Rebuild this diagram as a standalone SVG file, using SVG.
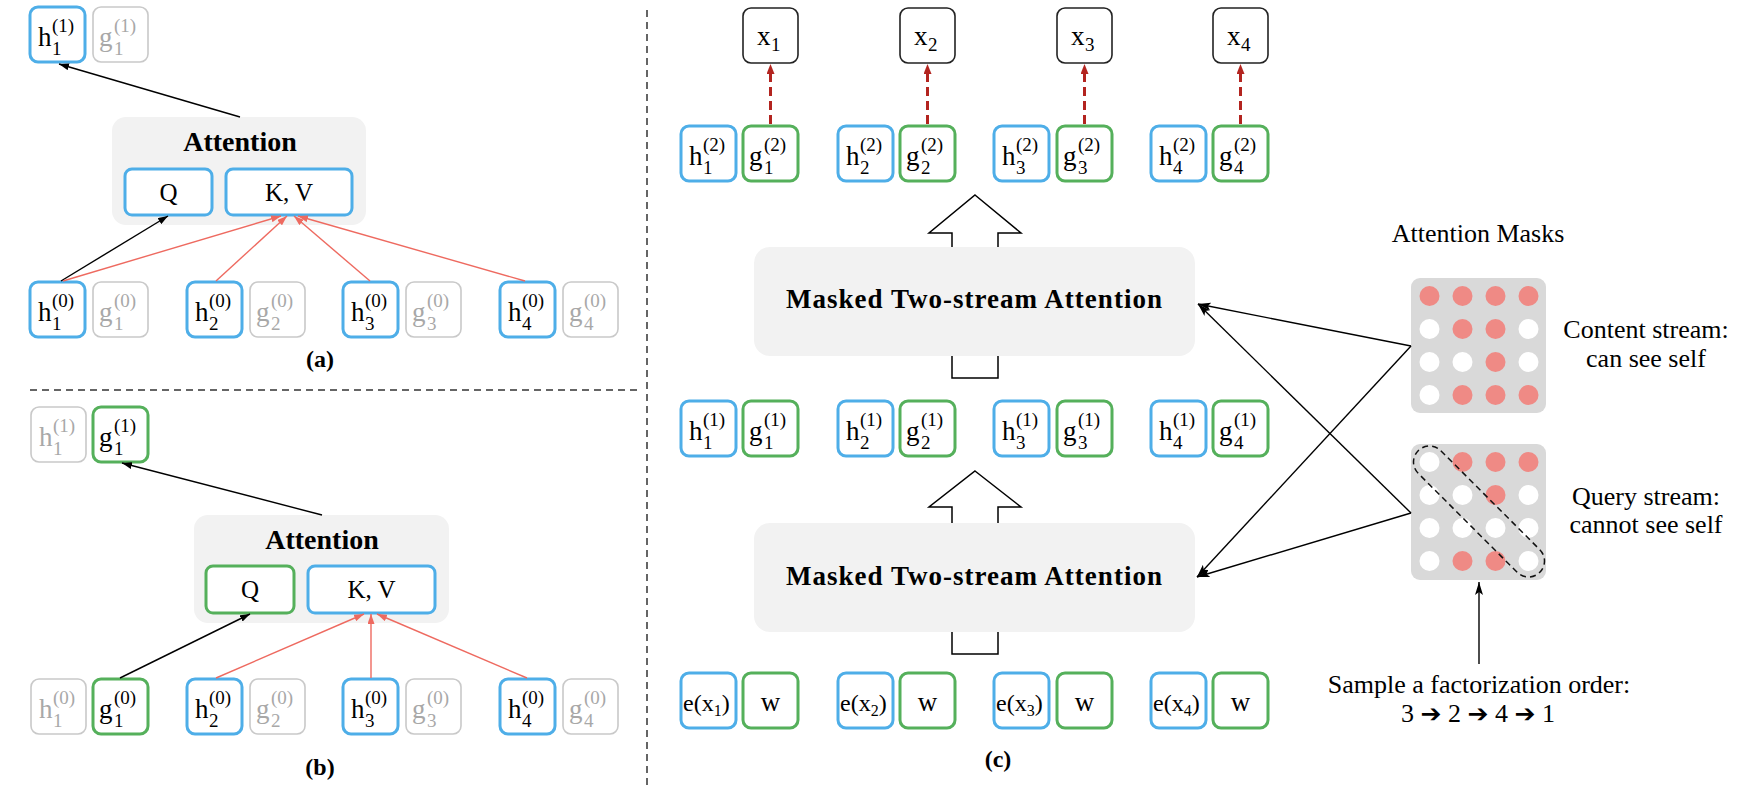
<svg xmlns="http://www.w3.org/2000/svg" width="1742" height="790" viewBox="0 0 1742 790">
<style>
text{font-family:"Liberation Serif",serif;fill:#000}
.bb{fill:#fff;stroke:#4eaee8;stroke-width:3}
.gb{fill:#fff;stroke:#55b05b;stroke-width:3}
.nb{fill:#fff;stroke:#c9c9c9;stroke-width:1.6}
.kb{fill:#fff;stroke:#222;stroke-width:1.6}
.att{fill:#f2f2f2}
.lb{font-size:27px}
.sp{font-size:19px}
.gr{fill:#a8a8a8}
.bold{font-weight:bold}
.big{font-size:26px;text-anchor:middle}
.mid{text-anchor:middle}
.k{stroke:#000;stroke-width:1.4;fill:none}
.r{stroke:#ee6a60;stroke-width:1.4;fill:none}
.rd{stroke:#b3241f;stroke-width:3;fill:none;stroke-dasharray:9 5}
.dash{stroke:#333;stroke-width:1.5;stroke-dasharray:7 5;fill:none}
.ha{fill:#fff;stroke:#000;stroke-width:1.5}
.mask{fill:#d9d9d9}
.p{fill:#ef8a85}
.w{fill:#fff}
.ar{font-family:"DejaVu Sans",sans-serif;font-size:25px}
</style>
<defs>
<marker id="mk" viewBox="0 0 10 7" refX="10" refY="3.5" markerWidth="10" markerHeight="7" markerUnits="userSpaceOnUse" orient="auto"><path d="M0,0 L10,3.5 L0,7 z" fill="#000"/></marker>
<marker id="mr" viewBox="0 0 10 7" refX="10" refY="3.5" markerWidth="10" markerHeight="7" markerUnits="userSpaceOnUse" orient="auto"><path d="M0,0 L10,3.5 L0,7 z" fill="#ee6a60"/></marker>
<marker id="md" viewBox="0 0 10 8" refX="4" refY="4" markerWidth="10" markerHeight="8" markerUnits="userSpaceOnUse" orient="auto"><path d="M0,0 L10,4 L0,8 z" fill="#b3241f"/></marker>
<marker id="mb" viewBox="0 0 13 8" refX="13" refY="4" markerWidth="13" markerHeight="8" markerUnits="userSpaceOnUse" orient="auto"><path d="M0,0 L13,4 L0,8 L3,4 z" fill="#000"/></marker>
</defs>

<!-- separators -->
<g id="separators">
<line class="dash" x1="647" y1="10" x2="647" y2="790"/>
<line class="dash" x1="30" y1="390" x2="642" y2="390"/>
</g>

<!-- ============ Panel (a) ============ -->
<g id="a-h1-1"><rect class="bb" x="30" y="7" width="55" height="55" rx="8"/><text class="lb" x="38" y="46">h<tspan class="sp" x="52" y="32">(1)</tspan><tspan class="sp" x="52" y="55">1</tspan></text></g>
<g id="a-g1-1"><rect class="nb" x="93" y="7" width="55" height="55" rx="8"/><text class="lb gr" x="99" y="46">g<tspan class="sp" x="114" y="32">(1)</tspan><tspan class="sp" x="114" y="55">1</tspan></text></g>

<g id="a-attention"><rect class="att" x="112" y="117" width="254" height="108" rx="14"/><text class="bold mid" x="240" y="151" font-size="28">Attention</text>
<g id="a-q"><rect class="bb" x="125" y="169" width="87" height="46" rx="7"/><text class="mid" x="168.5" y="201" font-size="25">Q</text></g>
<g id="a-kv"><rect class="bb" x="226" y="169" width="126" height="46" rx="7"/><text class="mid" x="289" y="201" font-size="25">K, V</text></g>
</g>

<g id="a-h1-0"><rect class="bb" x="30" y="282" width="55" height="55" rx="8"/><text class="lb" x="38" y="321">h<tspan class="sp" x="52" y="307">(0)</tspan><tspan class="sp" x="52" y="330">1</tspan></text></g>
<g id="a-g1-0"><rect class="nb" x="93" y="282" width="55" height="55" rx="8"/><text class="lb gr" x="99" y="321">g<tspan class="sp" x="114" y="307">(0)</tspan><tspan class="sp" x="114" y="330">1</tspan></text></g>
<g id="a-h2-0"><rect class="bb" x="187" y="282" width="55" height="55" rx="8"/><text class="lb" x="195" y="321">h<tspan class="sp" x="209" y="307">(0)</tspan><tspan class="sp" x="209" y="330">2</tspan></text></g>
<g id="a-g2-0"><rect class="nb" x="250" y="282" width="55" height="55" rx="8"/><text class="lb gr" x="256" y="321">g<tspan class="sp" x="271" y="307">(0)</tspan><tspan class="sp" x="271" y="330">2</tspan></text></g>
<g id="a-h3-0"><rect class="bb" x="343" y="282" width="55" height="55" rx="8"/><text class="lb" x="351" y="321">h<tspan class="sp" x="365" y="307">(0)</tspan><tspan class="sp" x="365" y="330">3</tspan></text></g>
<g id="a-g3-0"><rect class="nb" x="406" y="282" width="55" height="55" rx="8"/><text class="lb gr" x="412" y="321">g<tspan class="sp" x="427" y="307">(0)</tspan><tspan class="sp" x="427" y="330">3</tspan></text></g>
<g id="a-h4-0"><rect class="bb" x="500" y="282" width="55" height="55" rx="8"/><text class="lb" x="508" y="321">h<tspan class="sp" x="522" y="307">(0)</tspan><tspan class="sp" x="522" y="330">4</tspan></text></g>
<g id="a-g4-0"><rect class="nb" x="563" y="282" width="55" height="55" rx="8"/><text class="lb gr" x="569" y="321">g<tspan class="sp" x="584" y="307">(0)</tspan><tspan class="sp" x="584" y="330">4</tspan></text></g>

<text id="label-a" class="bold mid" x="320" y="367" font-size="24">(a)</text>

<!-- ============ Panel (b) ============ -->
<g id="b-h1-1"><rect class="nb" x="31" y="407" width="55" height="55" rx="8"/><text class="lb gr" x="39" y="446">h<tspan class="sp" x="53" y="432">(1)</tspan><tspan class="sp" x="53" y="455">1</tspan></text></g>
<g id="b-g1-1"><rect class="gb" x="93" y="407" width="55" height="55" rx="8"/><text class="lb" x="99" y="446">g<tspan class="sp" x="114" y="432">(1)</tspan><tspan class="sp" x="114" y="455">1</tspan></text></g>

<g id="b-attention"><rect class="att" x="194" y="515" width="255" height="108" rx="14"/><text class="bold mid" x="322" y="549" font-size="28">Attention</text>
<g id="b-q"><rect class="gb" x="206" y="566" width="88" height="47" rx="7"/><text class="mid" x="250" y="598" font-size="25">Q</text></g>
<g id="b-kv"><rect class="bb" x="308" y="566" width="127" height="47" rx="7"/><text class="mid" x="371.5" y="598" font-size="25">K, V</text></g>
</g>

<g id="b-h1-0"><rect class="nb" x="31" y="679" width="55" height="55" rx="8"/><text class="lb gr" x="39" y="718">h<tspan class="sp" x="53" y="704">(0)</tspan><tspan class="sp" x="53" y="727">1</tspan></text></g>
<g id="b-g1-0"><rect class="gb" x="93" y="679" width="55" height="55" rx="8"/><text class="lb" x="99" y="718">g<tspan class="sp" x="114" y="704">(0)</tspan><tspan class="sp" x="114" y="727">1</tspan></text></g>
<g id="b-h2-0"><rect class="bb" x="187" y="679" width="55" height="55" rx="8"/><text class="lb" x="195" y="718">h<tspan class="sp" x="209" y="704">(0)</tspan><tspan class="sp" x="209" y="727">2</tspan></text></g>
<g id="b-g2-0"><rect class="nb" x="250" y="679" width="55" height="55" rx="8"/><text class="lb gr" x="256" y="718">g<tspan class="sp" x="271" y="704">(0)</tspan><tspan class="sp" x="271" y="727">2</tspan></text></g>
<g id="b-h3-0"><rect class="bb" x="343" y="679" width="55" height="55" rx="8"/><text class="lb" x="351" y="718">h<tspan class="sp" x="365" y="704">(0)</tspan><tspan class="sp" x="365" y="727">3</tspan></text></g>
<g id="b-g3-0"><rect class="nb" x="406" y="679" width="55" height="55" rx="8"/><text class="lb gr" x="412" y="718">g<tspan class="sp" x="427" y="704">(0)</tspan><tspan class="sp" x="427" y="727">3</tspan></text></g>
<g id="b-h4-0"><rect class="bb" x="500" y="679" width="55" height="55" rx="8"/><text class="lb" x="508" y="718">h<tspan class="sp" x="522" y="704">(0)</tspan><tspan class="sp" x="522" y="727">4</tspan></text></g>
<g id="b-g4-0"><rect class="nb" x="563" y="679" width="55" height="55" rx="8"/><text class="lb gr" x="569" y="718">g<tspan class="sp" x="584" y="704">(0)</tspan><tspan class="sp" x="584" y="727">4</tspan></text></g>

<text id="label-b" class="bold mid" x="320" y="775" font-size="24">(b)</text>

<!-- ============ Panel (c) ============ -->
<g id="c-x1"><rect class="kb" x="743" y="8" width="55" height="55" rx="8"/><text class="lb" x="757" y="45">x<tspan class="sp" x="771" y="51">1</tspan></text></g>
<g id="c-x2"><rect class="kb" x="900" y="8" width="55" height="55" rx="8"/><text class="lb" x="914" y="45">x<tspan class="sp" x="928" y="51">2</tspan></text></g>
<g id="c-x3"><rect class="kb" x="1057" y="8" width="55" height="55" rx="8"/><text class="lb" x="1071" y="45">x<tspan class="sp" x="1085" y="51">3</tspan></text></g>
<g id="c-x4"><rect class="kb" x="1213" y="8" width="55" height="55" rx="8"/><text class="lb" x="1227" y="45">x<tspan class="sp" x="1241" y="51">4</tspan></text></g>

<!-- layer 2 outputs -->
<g id="c-h1-2"><rect class="bb" x="681" y="126" width="55" height="55" rx="8"/><text class="lb" x="689" y="165">h<tspan class="sp" x="703" y="151">(2)</tspan><tspan class="sp" x="703" y="174">1</tspan></text></g>
<g id="c-g1-2"><rect class="gb" x="743" y="126" width="55" height="55" rx="8"/><text class="lb" x="749" y="165">g<tspan class="sp" x="764" y="151">(2)</tspan><tspan class="sp" x="764" y="174">1</tspan></text></g>
<g id="c-h2-2"><rect class="bb" x="838" y="126" width="55" height="55" rx="8"/><text class="lb" x="846" y="165">h<tspan class="sp" x="860" y="151">(2)</tspan><tspan class="sp" x="860" y="174">2</tspan></text></g>
<g id="c-g2-2"><rect class="gb" x="900" y="126" width="55" height="55" rx="8"/><text class="lb" x="906" y="165">g<tspan class="sp" x="921" y="151">(2)</tspan><tspan class="sp" x="921" y="174">2</tspan></text></g>
<g id="c-h3-2"><rect class="bb" x="994" y="126" width="55" height="55" rx="8"/><text class="lb" x="1002" y="165">h<tspan class="sp" x="1016" y="151">(2)</tspan><tspan class="sp" x="1016" y="174">3</tspan></text></g>
<g id="c-g3-2"><rect class="gb" x="1057" y="126" width="55" height="55" rx="8"/><text class="lb" x="1063" y="165">g<tspan class="sp" x="1078" y="151">(2)</tspan><tspan class="sp" x="1078" y="174">3</tspan></text></g>
<g id="c-h4-2"><rect class="bb" x="1151" y="126" width="55" height="55" rx="8"/><text class="lb" x="1159" y="165">h<tspan class="sp" x="1173" y="151">(2)</tspan><tspan class="sp" x="1173" y="174">4</tspan></text></g>
<g id="c-g4-2"><rect class="gb" x="1213" y="126" width="55" height="55" rx="8"/><text class="lb" x="1219" y="165">g<tspan class="sp" x="1234" y="151">(2)</tspan><tspan class="sp" x="1234" y="174">4</tspan></text></g>

<!-- big hollow arrows (drawn under the attention boxes) -->
<g id="c-flow-arrows">
<polygon class="ha" points="975,195 1021,233 998,233 998,378 952,378 952,233 929,233"/>
<polygon class="ha" points="975,471 1021,507 998,507 998,654 952,654 952,507 929,507"/>
</g>

<g id="c-mtsa-top"><rect class="att" x="754" y="247" width="441" height="109" rx="16"/><text class="bold mid" x="974" y="308" font-size="27" textLength="376" lengthAdjust="spacing">Masked Two-stream Attention</text></g>
<g id="c-mtsa-bottom"><rect class="att" x="754" y="523" width="441" height="109" rx="16"/><text class="bold mid" x="974" y="585" font-size="27" textLength="376" lengthAdjust="spacing">Masked Two-stream Attention</text></g>

<!-- layer 1 -->
<g id="c-h1-1"><rect class="bb" x="681" y="401" width="55" height="55" rx="8"/><text class="lb" x="689" y="440">h<tspan class="sp" x="703" y="426">(1)</tspan><tspan class="sp" x="703" y="449">1</tspan></text></g>
<g id="c-g1-1"><rect class="gb" x="743" y="401" width="55" height="55" rx="8"/><text class="lb" x="749" y="440">g<tspan class="sp" x="764" y="426">(1)</tspan><tspan class="sp" x="764" y="449">1</tspan></text></g>
<g id="c-h2-1"><rect class="bb" x="838" y="401" width="55" height="55" rx="8"/><text class="lb" x="846" y="440">h<tspan class="sp" x="860" y="426">(1)</tspan><tspan class="sp" x="860" y="449">2</tspan></text></g>
<g id="c-g2-1"><rect class="gb" x="900" y="401" width="55" height="55" rx="8"/><text class="lb" x="906" y="440">g<tspan class="sp" x="921" y="426">(1)</tspan><tspan class="sp" x="921" y="449">2</tspan></text></g>
<g id="c-h3-1"><rect class="bb" x="994" y="401" width="55" height="55" rx="8"/><text class="lb" x="1002" y="440">h<tspan class="sp" x="1016" y="426">(1)</tspan><tspan class="sp" x="1016" y="449">3</tspan></text></g>
<g id="c-g3-1"><rect class="gb" x="1057" y="401" width="55" height="55" rx="8"/><text class="lb" x="1063" y="440">g<tspan class="sp" x="1078" y="426">(1)</tspan><tspan class="sp" x="1078" y="449">3</tspan></text></g>
<g id="c-h4-1"><rect class="bb" x="1151" y="401" width="55" height="55" rx="8"/><text class="lb" x="1159" y="440">h<tspan class="sp" x="1173" y="426">(1)</tspan><tspan class="sp" x="1173" y="449">4</tspan></text></g>
<g id="c-g4-1"><rect class="gb" x="1213" y="401" width="55" height="55" rx="8"/><text class="lb" x="1219" y="440">g<tspan class="sp" x="1234" y="426">(1)</tspan><tspan class="sp" x="1234" y="449">4</tspan></text></g>

<!-- inputs -->
<g id="c-e1"><rect class="bb" x="681" y="673" width="55" height="55" rx="8"/><text x="683" y="711" font-size="24">e(x<tspan font-size="16" dy="5">1</tspan><tspan dy="-5">)</tspan></text></g>
<g id="c-w1"><rect class="gb" x="743" y="673" width="55" height="55" rx="8"/><text class="mid" x="770.5" y="711" font-size="27">w</text></g>
<g id="c-e2"><rect class="bb" x="838" y="673" width="55" height="55" rx="8"/><text x="840" y="711" font-size="24">e(x<tspan font-size="16" dy="5">2</tspan><tspan dy="-5">)</tspan></text></g>
<g id="c-w2"><rect class="gb" x="900" y="673" width="55" height="55" rx="8"/><text class="mid" x="927.5" y="711" font-size="27">w</text></g>
<g id="c-e3"><rect class="bb" x="994" y="673" width="55" height="55" rx="8"/><text x="996" y="711" font-size="24">e(x<tspan font-size="16" dy="5">3</tspan><tspan dy="-5">)</tspan></text></g>
<g id="c-w3"><rect class="gb" x="1057" y="673" width="55" height="55" rx="8"/><text class="mid" x="1084.5" y="711" font-size="27">w</text></g>
<g id="c-e4"><rect class="bb" x="1151" y="673" width="55" height="55" rx="8"/><text x="1153" y="711" font-size="24">e(x<tspan font-size="16" dy="5">4</tspan><tspan dy="-5">)</tspan></text></g>
<g id="c-w4"><rect class="gb" x="1213" y="673" width="55" height="55" rx="8"/><text class="mid" x="1240.5" y="711" font-size="27">w</text></g>

<text id="label-c" class="bold mid" x="998" y="767" font-size="24">(c)</text>

<!-- attention masks -->
<text id="masks-title" class="big" x="1478" y="242">Attention Masks</text>

<g id="mask-content">
<rect class="mask" x="1411" y="278" width="135" height="135" rx="9"/>
<circle class="p" cx="1429.5" cy="296" r="10"/><circle class="p" cx="1462.5" cy="296" r="10"/><circle class="p" cx="1495.5" cy="296" r="10"/><circle class="p" cx="1528.5" cy="296" r="10"/>
<circle class="w" cx="1429.5" cy="329" r="10"/><circle class="p" cx="1462.5" cy="329" r="10"/><circle class="p" cx="1495.5" cy="329" r="10"/><circle class="w" cx="1528.5" cy="329" r="10"/>
<circle class="w" cx="1429.5" cy="362" r="10"/><circle class="w" cx="1462.5" cy="362" r="10"/><circle class="p" cx="1495.5" cy="362" r="10"/><circle class="w" cx="1528.5" cy="362" r="10"/>
<circle class="w" cx="1429.5" cy="395" r="10"/><circle class="p" cx="1462.5" cy="395" r="10"/><circle class="p" cx="1495.5" cy="395" r="10"/><circle class="p" cx="1528.5" cy="395" r="10"/>
</g>
<g id="content-label"><text class="big" x="1646" y="338">Content stream:</text><text class="big" x="1646" y="367">can see self</text></g>

<g id="mask-query">
<rect class="mask" x="1411" y="444" width="135" height="136" rx="9"/>
<circle class="w" cx="1429.5" cy="462" r="10"/><circle class="p" cx="1462.5" cy="462" r="10"/><circle class="p" cx="1495.5" cy="462" r="10"/><circle class="p" cx="1528.5" cy="462" r="10"/>
<circle class="w" cx="1429.5" cy="495" r="10"/><circle class="w" cx="1462.5" cy="495" r="10"/><circle class="p" cx="1495.5" cy="495" r="10"/><circle class="w" cx="1528.5" cy="495" r="10"/>
<circle class="w" cx="1429.5" cy="528" r="10"/><circle class="w" cx="1462.5" cy="528" r="10"/><circle class="w" cx="1495.5" cy="528" r="10"/><circle class="w" cx="1528.5" cy="528" r="10"/>
<circle class="w" cx="1429.5" cy="561" r="10"/><circle class="p" cx="1462.5" cy="561" r="10"/><circle class="p" cx="1495.5" cy="561" r="10"/><circle class="w" cx="1528.5" cy="561" r="10"/>
<rect x="-86" y="-16" width="172" height="32" rx="16" transform="translate(1479,511.5) rotate(45)" fill="none" stroke="#111" stroke-width="1.5" stroke-dasharray="6 4"/>
</g>
<g id="query-label"><text class="big" x="1646" y="505">Query stream:</text><text class="big" x="1646" y="533">cannot see self</text></g>

<g id="order-label"><text class="big" x="1479" y="693">Sample a factorization order:</text><text class="big" x="1478" y="722">3 <tspan class="ar">➔</tspan> 2 <tspan class="ar">➔</tspan> 4 <tspan class="ar">➔</tspan> 1</text></g>

<!-- connectors -->
<g id="connectors">
<line class="k" x1="240" y1="117" x2="59" y2="64" marker-end="url(#mk)"/>
<line class="k" x1="61" y1="281" x2="168" y2="216" marker-end="url(#mk)"/>
<line class="r" x1="63" y1="281" x2="281" y2="216" marker-end="url(#mr)"/>
<line class="r" x1="216" y1="281" x2="287" y2="216" marker-end="url(#mr)"/>
<line class="r" x1="370" y1="281" x2="294" y2="216" marker-end="url(#mr)"/>
<line class="r" x1="525" y1="281" x2="298" y2="216" marker-end="url(#mr)"/>

<line class="k" x1="322" y1="515" x2="122" y2="463" marker-end="url(#mk)"/>
<line class="k" x1="120" y1="678" x2="250" y2="614" marker-end="url(#mk)"/>
<line class="r" x1="216" y1="678" x2="364" y2="614" marker-end="url(#mr)"/>
<line class="r" x1="371" y1="678" x2="371" y2="614" marker-end="url(#mr)"/>
<line class="r" x1="527" y1="678" x2="377" y2="614" marker-end="url(#mr)"/>

<line class="rd" x1="770.5" y1="124" x2="770.5" y2="70" marker-end="url(#md)"/>
<line class="rd" x1="927.5" y1="124" x2="927.5" y2="70" marker-end="url(#md)"/>
<line class="rd" x1="1084.5" y1="124" x2="1084.5" y2="70" marker-end="url(#md)"/>
<line class="rd" x1="1240.5" y1="124" x2="1240.5" y2="70" marker-end="url(#md)"/>

<line class="k" x1="1411" y1="346" x2="1198" y2="304" marker-end="url(#mb)"/>
<line class="k" x1="1411" y1="346" x2="1197" y2="577" marker-end="url(#mb)"/>
<line class="k" x1="1411" y1="513" x2="1198" y2="304" marker-end="url(#mb)"/>
<line class="k" x1="1411" y1="513" x2="1197" y2="577" marker-end="url(#mb)"/>
<line class="k" x1="1479" y1="664" x2="1479" y2="582" marker-end="url(#mb)"/>
</g>
</svg>
